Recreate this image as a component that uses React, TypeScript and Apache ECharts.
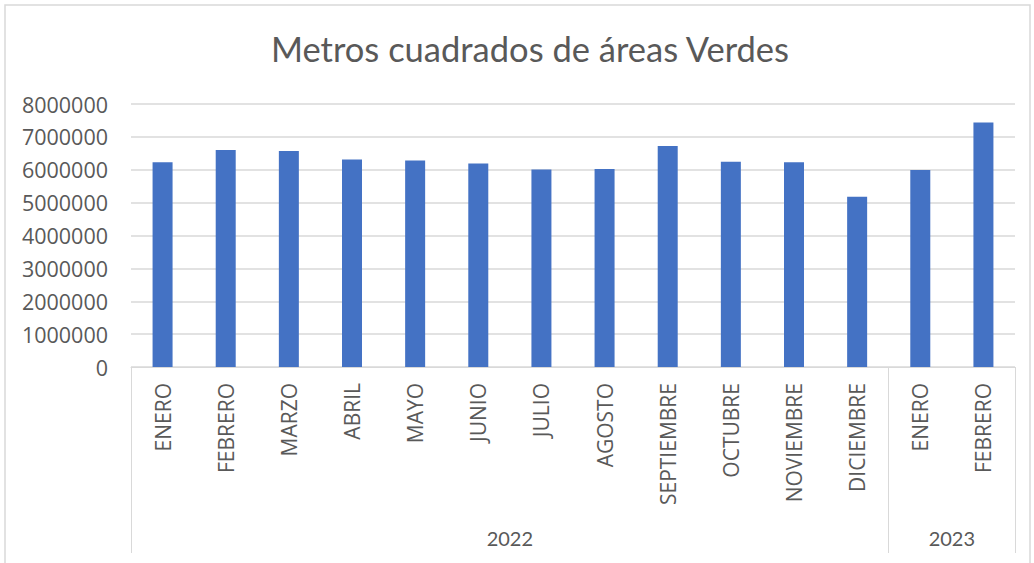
import React, { useEffect, useRef } from "react";
import * as echarts from "echarts";

const months = [
  "ENERO", "FEBRERO", "MARZO", "ABRIL", "MAYO", "JUNIO", "JULIO",
  "AGOSTO", "SEPTIEMBRE", "OCTUBRE", "NOVIEMBRE", "DICIEMBRE",
  "ENERO", "FEBRERO",
];
const values = [
  6230000, 6600000, 6570000, 6315000, 6285000, 6190000, 6010000,
  6020000, 6720000, 6240000, 6230000, 5180000, 5990000, 7440000,
];
const years = ["2022", "2023"];
const yearSpans = [12, 2];
const yTicks = { min: 0, max: 8000000, interval: 1000000 };

const FONT = "Lato";
const FONT2 = "Open Sans";
const GREY = "#595959";
const LINE = "#d9d9d9";

export default function App() {
  const ref = useRef<HTMLDivElement>(null);
  useEffect(() => {
    if (!ref.current) return;
    const chart = echarts.init(ref.current, undefined, { renderer: "svg" });
    const bounds: number[] = [0];
    yearSpans.forEach((s) => bounds.push(bounds[bounds.length - 1] + s));
    const centers = yearSpans.map((s, i) => bounds[i] + s / 2);
    chart.setOption({
      animation: false,
      textStyle: { fontFamily: FONT },
      title: {
        text: "Metros cuadrados de áreas Verdes",
        left: 525,
        textAlign: "center",
        top: 26,
        textStyle: { fontSize: 34.5, fontWeight: "normal", color: GREY, fontFamily: FONT },
      },
      graphic: [
        {
          type: "rect",
          shape: { x: 5, y: 5, width: 1025, height: 600 },
          style: { fill: "none", stroke: LINE, lineWidth: 1.5 },
          silent: true,
        },
      ],
      grid: { left: 131, right: 19, top: 104, bottom: 196, containLabel: false },
      xAxis: [
        {
          type: "category",
          data: months,
          axisLine: { lineStyle: { color: LINE, width: 1 } },
          axisTick: { show: false },
          axisLabel: {
            rotate: 90,
            margin: 16,
            fontSize: 21,
            color: GREY,
            interval: 0,
            fontFamily: FONT2,
          },
        },
        {
          type: "value",
          min: 0,
          max: bounds[bounds.length - 1],
          position: "bottom",
          axisLine: { show: false },
          splitLine: { show: false },
          axisTick: {
            show: true,
            customValues: bounds,
            length: 186,
            lineStyle: { color: LINE, width: 1 },
          },
          axisLabel: {
            show: true,
            customValues: centers,
            margin: 161,
            fontSize: 20,
            color: GREY,
            fontFamily: FONT,
            formatter: (v: number) => {
              const i = centers.indexOf(v);
              return i >= 0 ? years[i] : "";
            },
          },
        },
      ],
      yAxis: {
        type: "value",
        min: yTicks.min,
        max: yTicks.max,
        interval: yTicks.interval,
        axisLine: { show: false },
        axisTick: { show: false },
        splitLine: { lineStyle: { color: LINE, width: 1.5 } },
        axisLabel: {
          margin: 23,
          fontSize: 21.5,
          color: GREY,
          fontFamily: FONT2,
          formatter: (v: number) => String(v),
        },
      },
      series: [
        {
          type: "bar",
          xAxisIndex: 0,
          data: values,
          barWidth: 20,
          itemStyle: { color: "#4472C4" },
        },
      ],
    });
    return () => chart.dispose();
  }, []);
  return (
    <div
      ref={ref}
      style={{ position: "fixed", left: 0, top: 0, width: 1034, height: 563, background: "#fff" }}
    />
  );
}
